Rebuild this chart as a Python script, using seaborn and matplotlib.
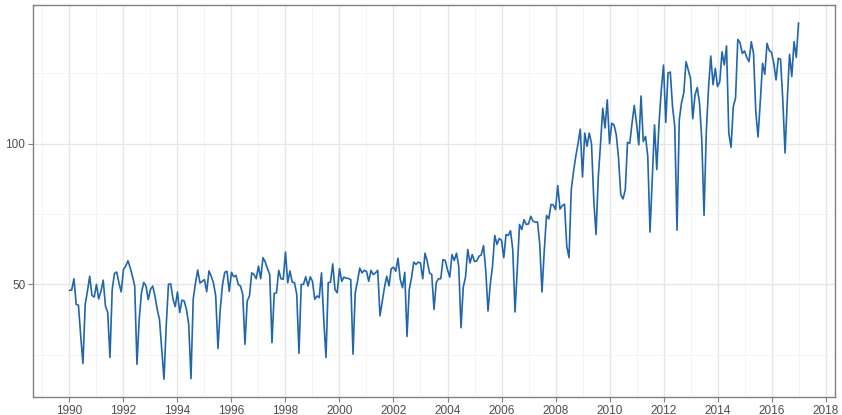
import pandas as pd
import numpy as np
import matplotlib
matplotlib.use('Agg')
import matplotlib.pyplot as plt
from matplotlib.ticker import MultipleLocator
import seaborn as sns

# Monthly series, Jan 1990 .. Jan 2017 (one row per year)
start = '1990-01'
values = [
    47.9, 48.0, 52.0, 42.9, 42.6, 31.7, 21.9, 42.9, 47.6, 52.9, 46.1, 45.5,      # 1990
    50.0, 44.8, 47.6, 51.5, 42.3, 40.0, 24.0, 48.2, 53.9, 54.4, 50.5, 47.3,      # 1991
    55.3, 56.5, 58.4, 55.9, 52.9, 49.4, 21.6, 37.6, 47.0, 50.7, 49.5, 44.6,      # 1992
    48.2, 49.4, 45.9, 41.1, 37.6, 27.0, 16.3, 35.2, 50.0, 50.2, 44.8, 42.1,      # 1993
    47.3, 40.0, 44.4, 44.1, 41.1, 35.8, 16.5, 44.8, 50.5, 55.1, 50.5, 51.1,      # 1994
    51.7, 47.4, 54.8, 52.9, 50.5, 45.9, 27.2, 41.1, 49.7, 54.3, 54.7, 47.5,      # 1995
    54.3, 52.7, 53.2, 50.0, 49.4, 46.5, 28.7, 44.1, 45.9, 54.1, 53.5, 52.0,      # 1996
    56.5, 52.0, 59.5, 58.0, 55.6, 53.5, 29.3, 46.8, 47.0, 55.0, 52.0, 51.8,      # 1997
    61.5, 50.6, 54.8, 50.8, 50.6, 46.5, 25.5, 50.0, 50.0, 52.7, 49.4, 52.7,      # 1998
    51.1, 44.7, 45.9, 45.3, 54.1, 37.6, 24.0, 50.6, 50.8, 57.3, 48.2, 47.0,      # 1999
    55.6, 51.1, 52.6, 52.2, 52.1, 51.7, 25.2, 47.0, 51.1, 55.8, 54.1, 55.0,      # 2000
    54.6, 51.1, 55.0, 53.5, 54.1, 55.0, 38.8, 44.0, 49.0, 52.9, 49.5, 55.6,      # 2001
    56.1, 54.7, 59.3, 51.8, 48.8, 54.3, 31.5, 48.2, 52.3, 57.9, 57.1, 57.9,      # 2002
    57.6, 52.0, 61.1, 58.2, 54.1, 53.5, 41.1, 50.6, 52.0, 52.0, 58.8, 58.5,      # 2003
    55.2, 52.6, 60.6, 58.5, 61.1, 56.4, 34.6, 49.0, 52.6, 62.4, 57.6, 60.6,      # 2004
    58.2, 58.3, 60.0, 60.5, 63.8, 55.0, 40.5, 50.0, 56.5, 67.4, 64.2, 66.3,      # 2005
    65.7, 59.5, 67.7, 67.4, 69.1, 62.4, 40.2, 55.3, 71.3, 69.5, 73.0, 71.3,      # 2006
    71.5, 74.2, 72.5, 72.1, 72.2, 64.2, 47.3, 62.0, 74.5, 73.3, 78.4, 78.3,      # 2007
    76.6, 85.1, 76.8, 78.0, 78.5, 63.6, 59.5, 83.7, 90.2, 95.5, 100.0, 105.2,    # 2008
    88.2, 103.8, 99.1, 103.8, 100.0, 80.0, 67.7, 88.0, 100.0, 112.6, 105.6, 115.6,  # 2009
    100.0, 107.3, 106.7, 103.2, 95.0, 81.9, 80.4, 83.7, 100.5, 100.2, 107.3, 113.6,  # 2010
    107.3, 99.6, 117.0, 100.8, 102.6, 95.5, 68.6, 87.2, 106.7, 90.8, 107.3, 119.1,   # 2011
    128.0, 107.6, 125.2, 125.5, 113.2, 106.1, 69.3, 108.5, 114.6, 118.0, 129.2, 126.2,  # 2012
    123.2, 108.9, 117.4, 120.0, 114.4, 101.4, 74.5, 104.0, 120.0, 131.2, 121.0, 126.8,  # 2013
    120.3, 122.1, 132.7, 128.0, 134.8, 103.8, 98.7, 113.2, 116.2, 137.1, 135.9, 132.1,  # 2014
    133.0, 130.7, 129.2, 136.3, 132.1, 111.5, 102.4, 115.0, 128.6, 124.7, 135.7, 133.1,  # 2015
    132.5, 128.6, 122.7, 130.4, 130.0, 115.6, 96.7, 115.6, 131.8, 123.9, 136.3, 130.7,  # 2016
    143.0,                                                                             # 2017
]

x_major = list(range(1990, 2019, 2))
y_major = [50, 100]

dates = pd.date_range(start, periods=len(values), freq='MS')
df = pd.DataFrame({'time': dates.year + (dates.month - 1) / 12, 'value': values})

sns.set_theme(style='white')
plt.rcParams['font.family'] = ['Liberation Sans', 'DejaVu Sans']

fig = plt.figure(figsize=(8.42, 4.15), dpi=100)
ax = fig.add_axes([33 / 842, 1 - 397 / 415, (835 - 33) / 842, (397 - 5) / 415])

sns.lineplot(data=df, x='time', y='value', ax=ax, color='#2166ac', linewidth=1.2)

ax.margins(x=0.05, y=0.05)
ax.set_xticks(x_major)
ax.set_yticks(y_major)
ax.xaxis.set_minor_locator(MultipleLocator(1))
ax.yaxis.set_minor_locator(MultipleLocator(25))

ax.grid(True, which='major', color='#e6e6e6', linewidth=1.0)
ax.grid(True, which='minor', color='#f2f2f2', linewidth=0.6)
ax.set_axisbelow(True)

for s in ax.spines.values():
    s.set_color('#808080')
    s.set_linewidth(1.0)

ax.tick_params(which='major', direction='out', length=3.5, width=0.8,
               color='#808080', labelsize=8.5, labelcolor='#4d4d4d', pad=2,
               bottom=True, left=True)
ax.tick_params(which='minor', length=0)
ax.set_xlabel('')
ax.set_ylabel('')

fig.savefig('out.png', dpi=100)
